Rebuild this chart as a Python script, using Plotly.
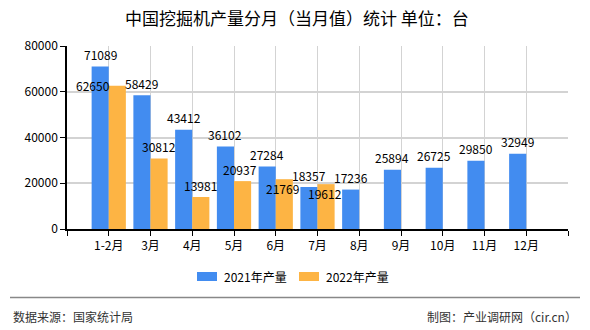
import plotly.graph_objects as go

categories = ["1-2月", "3月", "4月", "5月", "6月", "7月", "8月", "9月", "10月", "11月", "12月"]
values_2021 = [71089, 58429, 43412, 36102, 27284, 18357, 17236, 25894, 26725, 29850, 32949]
values_2022 = [62650, 30812, 13981, 20937, 21769, 19612]
series_names = ["2021年产量", "2022年产量"]
y_ticks = [0, 20000, 40000, 60000, 80000]

title_text = "中国挖掘机产量分月（当月值）统计 单位：台"
source_text = "数据来源：国家统计局"
credit_text = "制图：产业调研网（cir.cn）"

BLUE = "#428CF0"
ORANGE = "#FDB444"
FONT = "Noto Sans CJK SC, Noto Sans, sans-serif"
GRID = "#D3D3D3"

# label placement tweaks (pixel offsets) to mimic reference label layout
label_shift_2022 = {0: (-24, 0), 3: (-3, 12), 4: (-2, -9), 5: (-1, -9)}

x_idx = list(range(len(categories)))
fig = go.Figure()
fig.add_trace(go.Bar(x=x_idx, y=values_2021, name=series_names[0], marker_color=BLUE,
                     marker_line_width=0, showlegend=False))
fig.add_trace(go.Bar(x=x_idx[:len(values_2022)], y=values_2022, name=series_names[1],
                     marker_color=ORANGE, marker_line_width=0, showlegend=False))

bargap = 0.18
half = (1 - bargap) / 4
annotations = []
for i, v in enumerate(values_2021):
    annotations.append(dict(x=i - half, y=v, text=str(v), showarrow=False, xref="x", yref="y",
                            yanchor="middle", yshift=12, font=dict(size=12, color="#000", family=FONT)))
for i, v in enumerate(values_2022):
    xs, ys = label_shift_2022.get(i, (0, 12))
    annotations.append(dict(x=i + half, y=v, text=str(v), showarrow=False, xref="x", yref="y",
                            yanchor="middle", yshift=ys, xshift=xs,
                            font=dict(size=12, color="#000", family=FONT)))

W, H = 590, 330
L, R, T, B = 67, 22, 46, 101
ph = H - T - B
pw = W - L - R
def px_x(p):
    return (p - L) / pw
def px_y(p):
    return (H - B - p) / ph

annotations.append(dict(x=px_x(297), y=px_y(17), xref="paper", yref="paper", text=title_text,
                        showarrow=False, xanchor="center", yanchor="middle",
                        font=dict(size=17, color="#000", family=FONT)))
annotations.append(dict(x=px_x(11), y=px_y(316), xref="paper", yref="paper", text=source_text,
                        showarrow=False, xanchor="left", yanchor="middle",
                        font=dict(size=12, color="#333", family=FONT)))
annotations.append(dict(x=px_x(579), y=px_y(316), xref="paper", yref="paper", text=credit_text,
                        showarrow=False, xanchor="right", yanchor="middle",
                        font=dict(size=12, color="#333", family=FONT)))

shapes = [dict(type="line", xref="paper", yref="paper", x0=px_x(10), x1=px_x(580),
               y0=px_y(297.5), y1=px_y(297.5), line=dict(color="#888", width=1.5))]

# custom legend
legend_items = [(series_names[0], BLUE, 197), (series_names[1], ORANGE, 299)]
for name, col, lx in legend_items:
    shapes.append(dict(type="rect", xref="paper", yref="paper", x0=px_x(lx), x1=px_x(lx + 20),
                       y0=px_y(281), y1=px_y(272), fillcolor=col, line=dict(width=0)))
    annotations.append(dict(x=px_x(lx + 25), y=px_y(276.5), xref="paper", yref="paper", text=name,
                            showarrow=False, xanchor="left", yanchor="middle",
                            font=dict(size=12, color="#000", family=FONT)))

fig.update_layout(
    width=W, height=H,
    margin=dict(l=L, r=R, t=T, b=B),
    paper_bgcolor="white", plot_bgcolor="white",
    barmode="group", bargap=bargap, bargroupgap=0,
    annotations=annotations, shapes=shapes,
    showlegend=False,
    font=dict(family=FONT, size=12, color="#000"),
)
fig.update_xaxes(range=[-1, 11], tickvals=list(range(-1, 12)),
                 ticktext=[""] + categories + [""],
                 showgrid=True, gridcolor=GRID, gridwidth=1,
                 showline=True, linecolor="#000", linewidth=1.5,
                 ticks="outside", ticklen=5, tickcolor="#000",
                 tickfont=dict(size=12, color="#000", family=FONT), zeroline=False)
fig.update_yaxes(range=[0, 80000], tickvals=y_ticks, ticktext=[str(t) for t in y_ticks],
                 showgrid=True, gridcolor=GRID, gridwidth=1.5,
                 showline=True, linecolor="#000", linewidth=1.5,
                 ticks="outside", ticklen=5, tickcolor="#000",
                 tickfont=dict(size=12, color="#000", family=FONT), zeroline=False)

fig.write_html("out.html")
